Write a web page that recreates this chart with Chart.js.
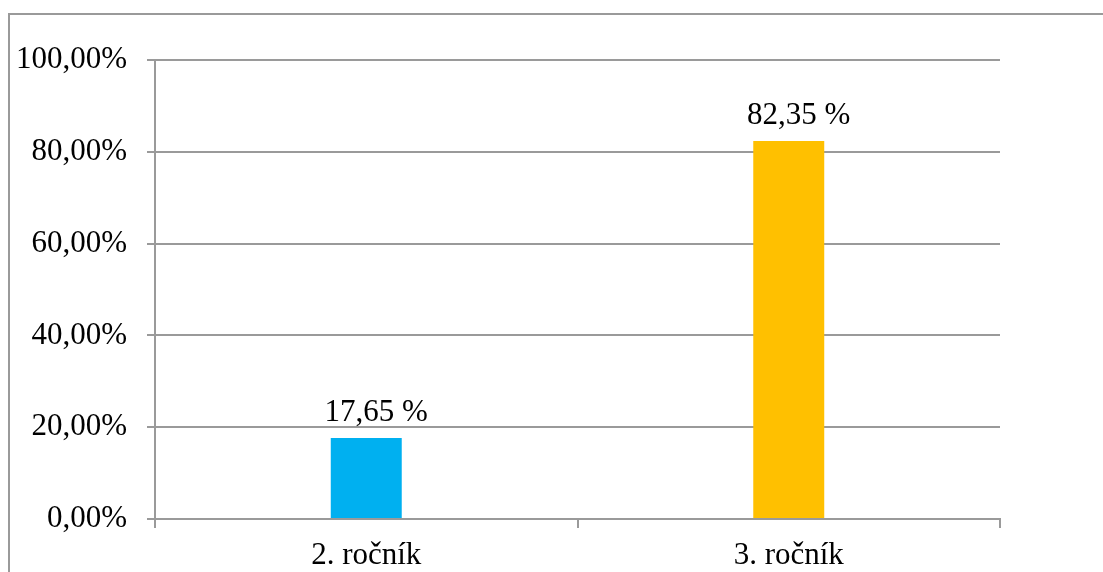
<!DOCTYPE html>
<html>
<head>
<meta charset="utf-8">
<script src="https://cdn.jsdelivr.net/npm/chart.js@4"></script>
<style>
  html, body { margin: 0; padding: 0; background: #fff; }
  canvas { display: block; }
</style>
</head>
<body>
<canvas id="chart" width="1103" height="572"></canvas>
<script>
const categories = ["2. ročník", "3. ročník"];
const values = [17.65, 82.35];
const barColors = ["#00B0F0", "#FFC000"];
const yTicks = [0, 20, 40, 60, 80, 100];

const fontFamily = "'Liberation Serif', 'Times New Roman', serif";
const gridColor = "#9a9a9a";

// outer frame like the exported picture
const framePlugin = {
  id: "frame",
  beforeDraw(chart) {
    const ctx = chart.ctx;
    ctx.save();
    ctx.strokeStyle = gridColor;
    ctx.lineWidth = 2;
    ctx.beginPath();
    ctx.moveTo(9, chart.height);
    ctx.lineTo(9, 14);
    ctx.lineTo(chart.width, 14);
    ctx.stroke();
    ctx.restore();
  },
};

// value labels over the bars
const labelPlugin = {
  id: "valueLabels",
  afterDatasetsDraw(chart) {
    const ctx = chart.ctx;
    const meta = chart.getDatasetMeta(0);
    ctx.save();
    ctx.font = "31px " + fontFamily;
    ctx.fillStyle = "#000";
    ctx.textAlign = "center";
    ctx.textBaseline = "alphabetic";
    meta.data.forEach((bar, i) => {
      const txt = values[i].toFixed(2).replace(".", ",") + " %";
      ctx.fillText(txt, bar.x + 10, bar.y - 17);
    });
    ctx.restore();
  },
};

new Chart(document.getElementById("chart").getContext("2d"), {
  type: "bar",
  data: {
    labels: categories,
    datasets: [{
      data: values,
      backgroundColor: barColors,
      categoryPercentage: 1,
      barPercentage: 0.168,
    }],
  },
  options: {
    responsive: false,
    animation: { duration: 0 },
    layout: { padding: { top: 60, right: 103, left: 0, bottom: 0 } },
    plugins: {
      legend: { display: false },
      tooltip: { enabled: false },
    },
    scales: {
      x: {
        offset: true,
        grid: {
          offset: true,
          drawOnChartArea: false,
          drawTicks: true,
          tickLength: 9,
          color: gridColor,
          lineWidth: 2,
        },
        border: { color: gridColor, width: 2 },
        ticks: {
          color: "#000",
          font: { family: fontFamily, size: 31 },
          padding: 9,
          maxRotation: 0,
        },
        afterFit(scale) { scale.height = 53; },
      },
      y: {
        min: 0,
        max: 100,
        afterBuildTicks(scale) {
          scale.ticks = yTicks.map(v => ({ value: v }));
        },
        grid: {
          color: gridColor,
          lineWidth: 2,
          tickLength: 8,
        },
        border: { color: gridColor, width: 2 },
        ticks: {
          color: "#000",
          font: { family: fontFamily, size: 31 },
          padding: 20,
          callback: v => v.toFixed(2).replace(".", ",") + "%",
        },
        afterFit(scale) { scale.width = 155; },
      },
    },
  },
  plugins: [framePlugin, labelPlugin],
});
</script>
</body>
</html>
